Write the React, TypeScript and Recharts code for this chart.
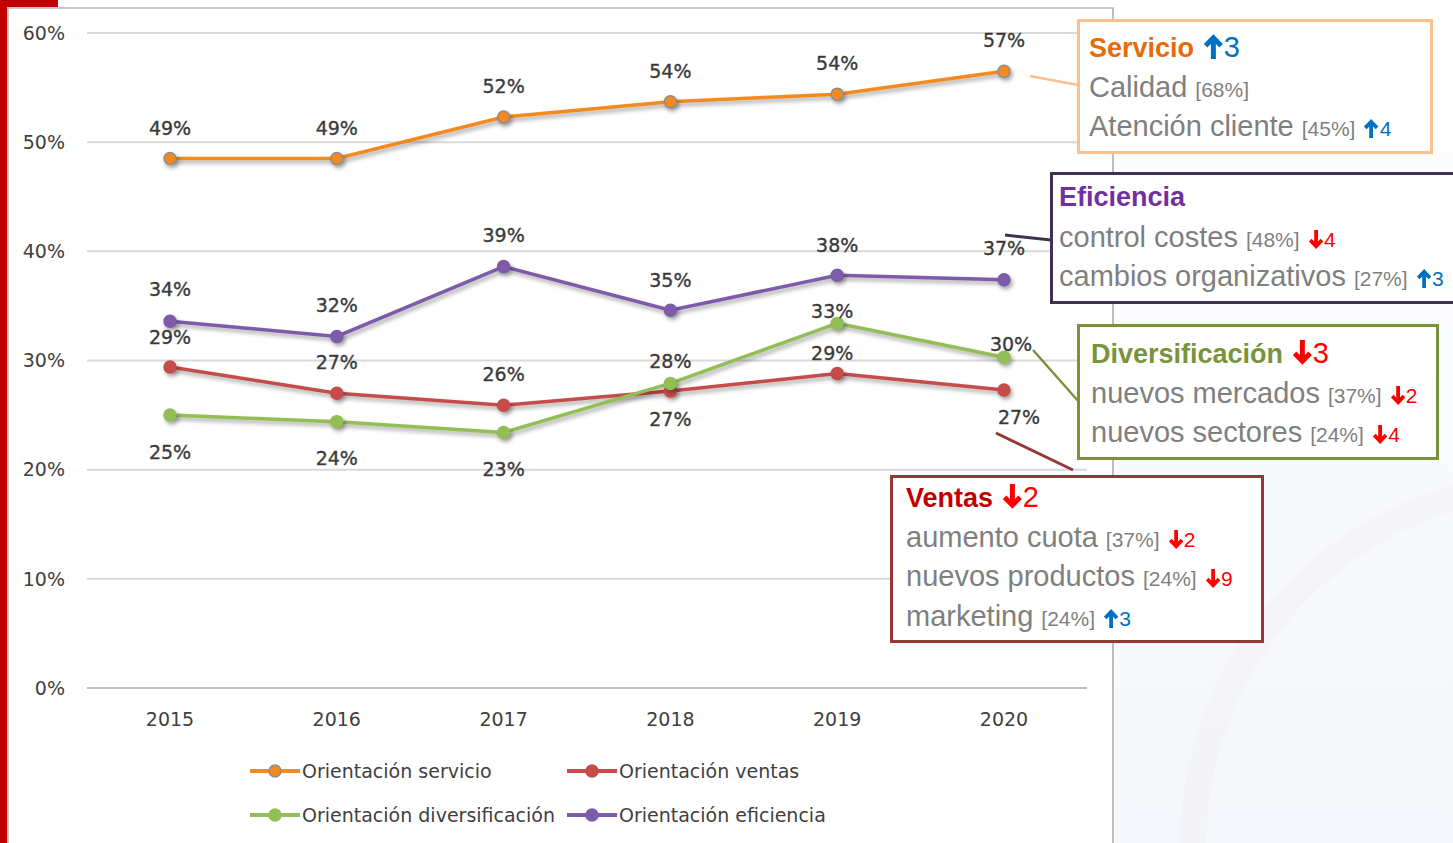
import React from 'react';
import { LineChart, Line, XAxis, YAxis, CartesianGrid } from 'recharts';

// ---------- data ----------
const years = ['2015', '2016', '2017', '2018', '2019', '2020'];
const servicio = [48.5, 48.5, 52.3, 53.7, 54.4, 56.5];
const ventas = [29.4, 27.0, 25.9, 27.2, 28.8, 27.3];
const diversificacion = [25.0, 24.4, 23.4, 27.9, 33.4, 30.3];
const eficiencia = [33.6, 32.2, 38.6, 34.6, 37.8, 37.4];
const yTicks = [0, 10, 20, 30, 40, 50, 60];

const seriesNames = {
  servicio: 'Orientación servicio',
  ventas: 'Orientación ventas',
  diversificacion: 'Orientación diversificación',
  eficiencia: 'Orientación eficiencia',
};

type Note = { text: string; pct?: string; delta?: number };
const servicioTitle = { title: 'Servicio', delta: 3 };
const servicioNotes: Note[] = [
  { text: 'Calidad', pct: '[68%]' },
  { text: 'Atención cliente', pct: '[45%]', delta: 4 },
];
const eficienciaTitle = { title: 'Eficiencia', delta: 0 };
const eficienciaNotes: Note[] = [
  { text: 'control costes', pct: '[48%]', delta: -4 },
  { text: 'cambios organizativos', pct: '[27%]', delta: 3 },
];
const diversificacionTitle = { title: 'Diversificación', delta: -3 };
const diversificacionNotes: Note[] = [
  { text: 'nuevos mercados', pct: '[37%]', delta: -2 },
  { text: 'nuevos sectores', pct: '[24%]', delta: -4 },
];
const ventasTitle = { title: 'Ventas', delta: -2 };
const ventasNotes: Note[] = [
  { text: 'aumento cuota', pct: '[37%]', delta: -2 },
  { text: 'nuevos productos', pct: '[24%]', delta: -9 },
  { text: 'marketing', pct: '[24%]', delta: 3 },
];

const rows = years.map((y, i) => ({
  year: y,
  servicio: servicio[i],
  ventas: ventas[i],
  diversificacion: diversificacion[i],
  eficiencia: eficiencia[i],
}));

// ---------- style ----------
const W = 1453;
const H = 843;
const FONT = 'DejaVu Sans, Verdana, sans-serif';
const BOXFONT = 'Liberation Sans, Arial, sans-serif';
const COLORS = {
  servicio: '#F38A1D',
  ventas: '#C64B4B',
  diversificacion: '#93BE55',
  eficiencia: '#7D5BAA',
};
const DOT_STROKE = {
  servicio: '#8E8E8E',
  ventas: '#C64B4B',
  diversificacion: '#93BE55',
  eficiencia: '#7D5BAA',
};
// label vertical offsets (px) relative to the point, per series
const labelDy = {
  servicio: [-31, -31, -31, -31, -31, -31],
  eficiencia: [-32, -31, -32, -30, -30, -32],
  ventas: [-30, -31, -31, 28, -21, 27],
  diversificacion: [37, 36, 36, -22, -12, -13],
};
const labelDx = {
  servicio: [0, 0, 0, 0, 0, 0],
  eficiencia: [0, 0, 0, 0, 0, 0],
  ventas: [0, 0, 0, 0, -5, 15],
  diversificacion: [0, 0, 0, 0, -5, 7],
};

const UP = '#0070C0';
const DOWN = '#FF0000';
const GRAY = '#7F7F7F';

function Arrow({ up, h }: { up: boolean; h: number }) {
  const w = h * 0.75;
  return (
    <svg
      width={w}
      height={h}
      viewBox="0 0 15 20"
      style={{ display: 'inline-block', verticalAlign: 'baseline', marginBottom: -2 }}
    >
      {up ? (
        <path d="M7.5 20 V3.2 M1.3 9.4 L7.5 3 L13.7 9.4" stroke={UP} strokeWidth={4} fill="none" />
      ) : (
        <path d="M7.5 0 V16.8 M1.3 10.6 L7.5 17 L13.7 10.6" stroke={DOWN} strokeWidth={4} fill="none" />
      )}
    </svg>
  );
}

function Delta({ d, big }: { d?: number; big?: boolean }) {
  if (!d) return null;
  const up = d > 0;
  return (
    <span style={{ color: up ? UP : DOWN, fontSize: big ? 29 : 21, marginLeft: big ? 10 : 9, fontWeight: 400 }}>
      <Arrow up={up} h={big ? 25 : 19} />
      <span style={{ marginLeft: 1 }}>{Math.abs(d)}</span>
    </span>
  );
}

function NoteBox({
  left, top, width, border, titleColor, title, notes, pt, pl,
}: {
  left: number; top: number; width: number; border: string; titleColor: string;
  title: { title: string; delta: number }; notes: Note[]; pt: number; pl: number;
}) {
  return (
    <div
      style={{
        position: 'absolute', left, top, width, boxSizing: 'border-box',
        border: `3px solid ${border}`, background: '#fff',
        paddingTop: pt, paddingLeft: pl, paddingBottom: 4,
        fontFamily: BOXFONT, whiteSpace: 'nowrap',
      }}
    >
      <div style={{ height: 39.5, lineHeight: '39.5px', fontSize: 27, fontWeight: 700, color: titleColor }}>
        {title.title}
        <Delta d={title.delta} big />
      </div>
      {notes.map((n, i) => (
        <div key={i} style={{ height: 39.5, lineHeight: '39.5px', fontSize: 29, color: GRAY }}>
          {n.text}
          {n.pct ? <span style={{ fontSize: 21, marginLeft: 8 }}>{n.pct}</span> : null}
          <Delta d={n.delta} />
        </div>
      ))}
    </div>
  );
}

function makeLabel(values: number[], dys: number[], dxs: number[]) {
  return (props: any) => {
    const i = props.index;
    const x = props.x ?? props.viewBox?.x;
    const y = props.y ?? props.viewBox?.y;
    if (x == null || y == null || i == null) return null;
    return (
      <text
        key={`l${i}`}
        x={x + dxs[i]}
        y={y + dys[i]}
        textAnchor="middle"
        dominantBaseline="central"
        fontFamily={FONT}
        fontSize={19}
        fill="#3a3a3a"
        stroke="#3a3a3a"
        strokeWidth={0.35}
      >
        {Math.round(values[i])}%
      </text>
    );
  };
}

const legendItems = [
  { key: 'servicio', x: 250, y: 771 },
  { key: 'ventas', x: 567, y: 771 },
  { key: 'diversificacion', x: 250, y: 815 },
  { key: 'eficiencia', x: 567, y: 815 },
] as const;

const css = `
.recharts-line-curve { filter: drop-shadow(2px 3px 2px rgba(0,0,0,0.35)); }
.recharts-line-dots circle { filter: drop-shadow(2px 3px 2px rgba(0,0,0,0.35)); }
`;

export default function App() {
  const seriesList: { key: keyof typeof COLORS; values: number[] }[] = [
    { key: 'servicio', values: servicio },
    { key: 'ventas', values: ventas },
    { key: 'diversificacion', values: diversificacion },
    { key: 'eficiencia', values: eficiencia },
  ];
  return (
    <div style={{ position: 'absolute', left: 0, top: 0, width: W, height: H, overflow: 'hidden', background: '#fff' }}>
      <style>{css}</style>
      {/* right background */}
      <div
        style={{
          position: 'absolute', left: 1115, top: 0, width: 338, height: H,
          background: 'linear-gradient(180deg, #ffffff 0%, #f9fafc 45%, #f4f7fb 100%)',
        }}
      />
      <div
        style={{
          position: 'absolute', left: 1180, top: 470, width: 700, height: 700, borderRadius: '50%',
          border: '26px solid rgba(240,230,236,0.18)',
        }}
      />
      {/* chart frame */}
      <div
        style={{
          position: 'absolute', left: 7, top: 7, width: 1107, height: 900, boxSizing: 'border-box',
          borderTop: '2px solid #C8C8C8', borderLeft: '2px solid #C8C8C8', borderRight: '2px solid #BDBDBD',
          background: '#fff',
        }}
      />
      <div style={{ position: 'absolute', left: 0, top: 0, width: 7, height: H, background: '#C00000' }} />
      <div style={{ position: 'absolute', left: 0, top: 0, width: 58, height: 7, background: '#C00000' }} />

      <div style={{ position: 'absolute', left: 0, top: 0 }}>
        <LineChart width={W} height={H} data={rows} margin={{ top: 33, right: 366, bottom: 115, left: 27 }}>
          <CartesianGrid vertical={false} stroke="#D9D9D9" strokeWidth={2} />
          <XAxis
            dataKey="year"
            padding={{ left: 83, right: 83 }}
            interval={0}
            tickLine={false}
            tickSize={0}
            tickMargin={25}
            height={40}
            axisLine={{ stroke: '#BFBFBF', strokeWidth: 2 }}
            tick={{ fill: '#404040', fontSize: 19, fontFamily: FONT }}
          />
          <YAxis
            domain={[0, 60]}
            ticks={yTicks}
            interval={0}
            tickFormatter={(v: number) => `${v}%`}
            axisLine={false}
            tickLine={false}
            tickSize={0}
            tickMargin={22}
            width={60}
            tick={{ fill: '#404040', fontSize: 19, fontFamily: FONT }}
          />
          {seriesList.map((s) => (
            <Line
              key={s.key}
              dataKey={s.key}
              name={seriesNames[s.key]}
              type="linear"
              stroke={COLORS[s.key]}
              strokeWidth={3.5}
              isAnimationActive={false}
              dot={{ r: 6, fill: COLORS[s.key], stroke: DOT_STROKE[s.key], strokeWidth: 1.5 }}
              activeDot={false}
              label={makeLabel(s.values, labelDy[s.key], labelDx[s.key])}
            />
          ))}
        </LineChart>
      </div>

      {/* legend */}
      {legendItems.map((it) => (
        <div key={it.key} style={{ position: 'absolute', left: it.x, top: it.y - 12, height: 24, display: 'flex', alignItems: 'center' }}>
          <svg width={52} height={16} style={{ display: 'block' }}>
            <line x1={0} y1={8} x2={50} y2={8} stroke={COLORS[it.key]} strokeWidth={4} />
            <circle cx={25} cy={8} r={6} fill={COLORS[it.key]} stroke={DOT_STROKE[it.key]} strokeWidth={1.5} />
          </svg>
          <span style={{ fontFamily: FONT, fontSize: 19, color: '#404040', whiteSpace: 'nowrap' }}>
            {seriesNames[it.key]}
          </span>
        </div>
      ))}

      {/* connectors */}
      <svg width={W} height={H} style={{ position: 'absolute', left: 0, top: 0, pointerEvents: 'none' }}>
        <line x1={1030} y1={76} x2={1078} y2={85} stroke="#FAC090" strokeWidth={2.5} />
        <line x1={1005} y1={235} x2={1051} y2={240} stroke="#403152" strokeWidth={3} />
        <line x1={1033} y1={350} x2={1079} y2={402} stroke="#77933C" strokeWidth={2.5} />
        <line x1={996} y1={433} x2={1073} y2={470} stroke="#953735" strokeWidth={3} />
      </svg>

      {/* annotation boxes */}
      <NoteBox left={1077} top={19} width={356} border="#FAC090" titleColor="#E46C0A"
        title={servicioTitle} notes={servicioNotes} pt={6} pl={9} />
      <NoteBox left={1050} top={172} width={430} border="#403152" titleColor="#7030A0"
        title={eficienciaTitle} notes={eficienciaNotes} pt={3} pl={6} />
      <NoteBox left={1077} top={324} width={362} border="#77933C" titleColor="#77933C"
        title={diversificacionTitle} notes={diversificacionNotes} pt={7} pl={11} />
      <NoteBox left={890} top={475} width={374} border="#953735" titleColor="#C00000"
        title={ventasTitle} notes={ventasNotes} pt={0} pl={13} />
    </div>
  );
}
